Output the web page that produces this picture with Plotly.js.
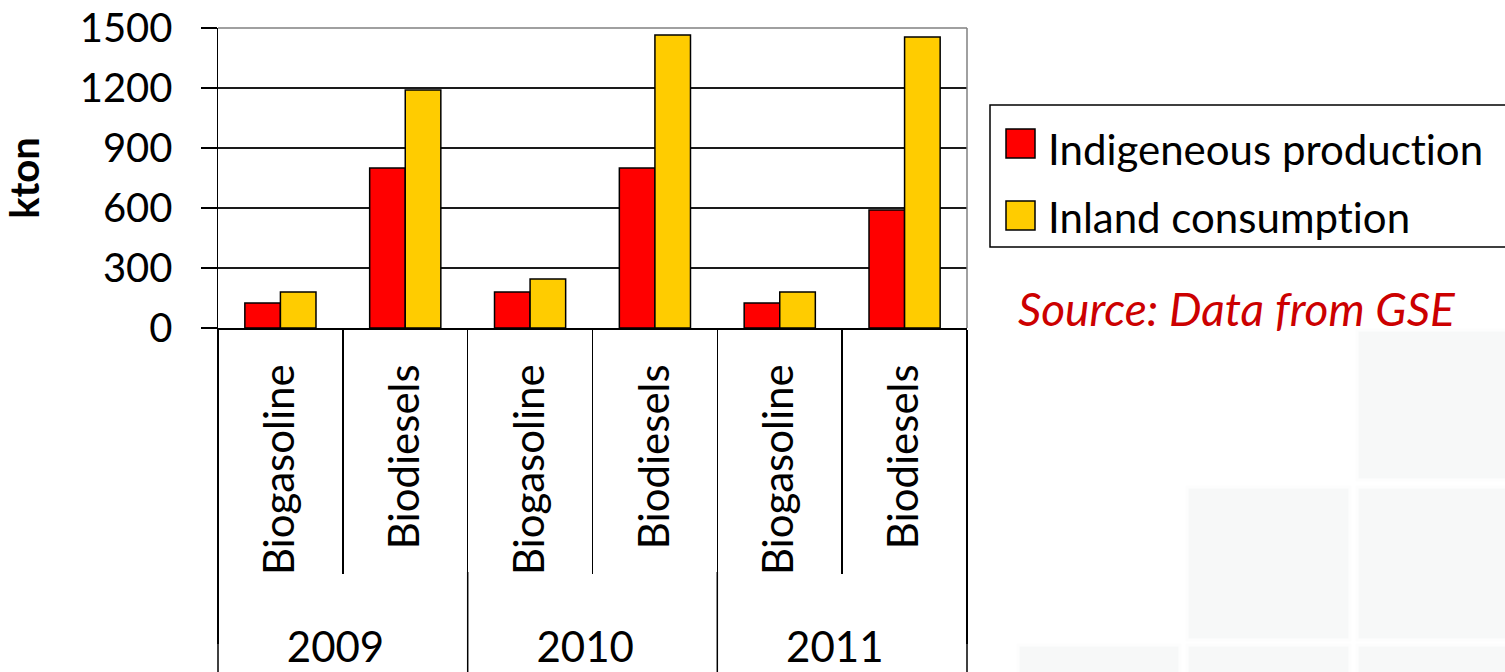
<!DOCTYPE html>
<html>
<head>
<meta charset="utf-8">
<script src="https://cdn.plot.ly/plotly-3.0.1.min.js"></script>
<style>
html,body{margin:0;padding:0;background:#fff;}
#chart{width:1505px;height:672px;}
#chart text, #chart tspan{font-variant-ligatures:none !important;font-feature-settings:"liga" 0,"clig" 0 !important;}
</style>
</head>
<body>
<div id="chart"></div>
<script>
// ---- data ----
var years = ['2009', '2009', '2010', '2010', '2011', '2011'];
var fuels = ['Biogasoline', 'Biodiesels', 'Biogasoline', 'Biodiesels', 'Biogasoline', 'Biodiesels'];
var production = [125, 800, 180, 800, 125, 590];
var consumption = [180, 1190, 245, 1465, 180, 1455];
var seriesNames = ['Indigeneous production', 'Inland consumption'];
var seriesColors = ['#FF0000', '#FFCC00'];
var yTicks = [0, 300, 600, 900, 1200, 1500];
var yTitle = 'kton';
var sourceText = 'Source: Data from GSE';

// ---- layout geometry (pixels) ----
var W = 1505, H = 672;
var L = 218, R = 967, T = 28, B = 328;
function px(x) { return (x - L) / (R - L); }
function py(y) { return (B - y) / (B - T); }
var FONT = 'Lato, "Open Sans", sans-serif';
// break the "ti" ligature that Lato would otherwise draw
function noLig(s) { return s.replace(/ti/g, 't\u200Ci'); }

var traces = [production, consumption].map(function (vals, i) {
  return {
    type: 'bar',
    x: [years, fuels],
    y: vals,
    name: seriesNames[i],
    marker: { color: seriesColors[i], line: { color: '#000', width: 1.5 } },
    showlegend: false,
    hoverinfo: 'y'
  };
});

var shapes = [];
// faint background tiles (slide decoration)
[[1357, 330, 1520, 480], [1187, 487, 1350, 640], [1357, 487, 1520, 640],
 [1018, 645, 1180, 690], [1187, 645, 1350, 690], [1357, 645, 1520, 690]].forEach(function (r) {
  shapes.push({ type: 'rect', xref: 'paper', yref: 'paper', layer: 'below',
    x0: px(r[0]), x1: px(r[2]), y0: py(r[3]), y1: py(r[1]),
    fillcolor: '#f7f8f8', line: { color: '#fdfdfd', width: 3 } });
});
// gray plot frame top and right
shapes.push({ type: 'line', xref: 'paper', yref: 'paper', x0: 0, x1: 1, y0: 1, y1: 1, line: { color: '#808080', width: 1.5 } });
shapes.push({ type: 'line', xref: 'paper', yref: 'paper', x0: 1, x1: 1, y0: 0, y1: 1, line: { color: '#808080', width: 1.5 } });
// year dividers continue to the bottom edge
[218, 467.7, 717.3, 967].forEach(function (x) {
  shapes.push({ type: 'line', xref: 'paper', yref: 'paper', x0: px(x), x1: px(x), y0: py(572), y1: py(680),
    line: { color: '#000', width: 1.5 } });
});
// legend box
shapes.push({ type: 'rect', xref: 'paper', yref: 'paper', x0: px(990), x1: px(1520), y0: py(247), y1: py(105),
  fillcolor: '#fff', line: { color: '#000', width: 1.5 } });
// legend swatches
[[129, 158], [201, 230]].forEach(function (s, i) {
  shapes.push({ type: 'rect', xref: 'paper', yref: 'paper', x0: px(1006), x1: px(1035), y0: py(s[1]), y1: py(s[0]),
    fillcolor: seriesColors[i], line: { color: '#000', width: 1.5 } });
});

var annotations = [
  { xref: 'paper', yref: 'paper', x: px(1046), y: py(149), xanchor: 'left', yanchor: 'middle', showarrow: false,
    text: noLig(seriesNames[0]), font: { family: FONT, size: 42, color: '#000' } },
  { xref: 'paper', yref: 'paper', x: px(1046), y: py(217), xanchor: 'left', yanchor: 'middle', showarrow: false,
    text: noLig(seriesNames[1]), font: { family: FONT, size: 42, color: '#000' } },
  { xref: 'paper', yref: 'paper', x: px(1016), y: py(308), xanchor: 'left', yanchor: 'middle', showarrow: false,
    text: '<i>' + sourceText + '</i>', font: { family: FONT, size: 46, color: '#CC0000' } }
];

var layout = {
  width: W, height: H,
  margin: { l: L, r: W - R, t: T, b: H - B, pad: 0 },
  paper_bgcolor: '#fff', plot_bgcolor: 'rgba(0,0,0,0)',
  barmode: 'group', bargap: 0.43, bargroupgap: 0,
  font: { family: FONT, size: 42, color: '#000' },
  showlegend: false,
  xaxis: {
    type: 'multicategory',
    showline: true, linecolor: '#000', linewidth: 1.5,
    ticks: 'outside', tickson: 'boundaries', ticklen: 244, tickcolor: '#000', tickwidth: 1.5,
    tickangle: -90,
    ticklabelstandoff: 18,
    showdividers: true, dividercolor: '#000', dividerwidth: 1.5,
    tickfont: { family: FONT, size: 42, color: '#000' },
    showgrid: false, zeroline: false, fixedrange: true
  },
  yaxis: {
    range: [0, 1500], tickvals: yTicks, ticktext: yTicks.map(String),
    showline: true, linecolor: '#000', linewidth: 1.5,
    ticks: 'outside', ticklen: 16, tickcolor: '#000', tickwidth: 1.5,
    showgrid: true, gridcolor: '#1a1a1a', gridwidth: 1.5,
    zeroline: false,
    tickfont: { family: FONT, size: 40, color: '#000' },
    ticklabelstandoff: 20,
    title: { text: '<b>' + yTitle + '</b>', font: { family: FONT, size: 40, color: '#000' }, standoff: 28 },
    fixedrange: true
  },
  shapes: shapes,
  annotations: annotations
};

Plotly.newPlot('chart', traces, layout, { displayModeBar: false, staticPlot: true }).then(function (gd) {
  // push the year (outer level) labels further down, as in the reference
  var yearSet = {};
  years.forEach(function (y) { yearSet[y] = true; });
  gd.querySelectorAll('.xaxislayer-above text').forEach(function (t) {
    if (yearSet[t.textContent.trim()]) {
      var prev = t.getAttribute('transform') || '';
      t.setAttribute('transform', prev + ' translate(0,27)');
    }
  });
});
</script>
</body>
</html>
